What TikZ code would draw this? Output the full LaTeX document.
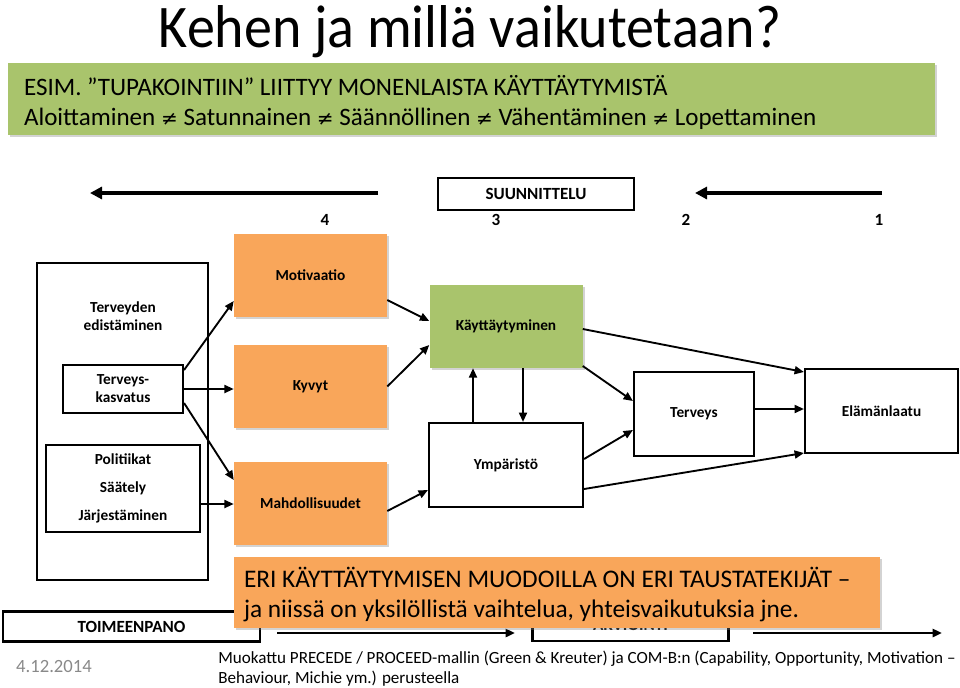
\documentclass[tikz,border=0pt]{standalone}
\usepackage{fontspec}
\setmainfont{Carlito}
\newfontfamily\symfont{DejaVu Sans}
\usetikzlibrary{arrows.meta,shadows,calc}
\definecolor{boxorange}{RGB}{249,166,90}
\definecolor{boxgreen}{RGB}{169,196,108}
\definecolor{dategray}{RGB}{137,137,137}
\newcommand{\neqsym}{{\symfont\fontsize{15}{18}\selectfont ≠}}

\begin{document}
\begin{tikzpicture}[x=0.75pt, y=-0.75pt, >={Triangle[length=7pt,width=6pt]},
    shadowed/.style={drop shadow={shadow xshift=1.5pt, shadow yshift=-1.5pt, opacity=.35}},
    lbl/.style={font=\bfseries\fontsize{11.5}{13.5}\selectfont, align=center},
    caps/.style={font=\bfseries\fontsize{12.8}{14}\selectfont},
    wbox/.style={lbl, draw, line width=1.6pt, fill=white},
    obox/.style={lbl, fill=boxorange, shadowed, minimum width=114.75pt, minimum height=62.25pt},
    arr/.style={->, line width=1.4pt},
    bigarr/.style={-{Triangle[length=9pt,width=9pt]}, line width=2.4pt}]
  \useasboundingbox (0,0) rectangle (960,687);

  % otsikko ja esimerkki
  \node[anchor=base] (title) at (470,47) {\scalebox{1}[1.08]{\fontsize{42}{46}\selectfont Kehen ja millä vaikutetaan?}};
  \node[fill=boxgreen, shadowed, minimum width=695.25pt, minimum height=54pt] (esim) at (471.5,99) {};
  \node[anchor=west, align=left, inner sep=0pt, font=\fontsize{18.8}{22.5}\selectfont] (esimtxt) at ($(esim.west)+(16,3)$)
    {ESIM. ”TUPAKOINTIIN” LIITTYY MONENLAISTA KÄYTTÄYTYMISTÄ\\
     Aloittaminen \neqsym{} Satunnainen \neqsym{} Säännöllinen \neqsym{} Vähentäminen \neqsym{} Lopettaminen};

  % suunnittelu
  \node[wbox, caps, minimum width=147pt, minimum height=24pt] (suun) at (536,194) {SUUNNITTELU};
  \coordinate (s1) at (378,193);
  \coordinate (s2) at (90,193);
  \coordinate (s3) at (882,193);
  \coordinate (s4) at (695,193);
  \draw[bigarr] (s1) -- (s2);
  \draw[bigarr] (s3) -- (s4);
  \node[lbl, caps] (n4) at (325,220) {4};
  \node[lbl, caps] (n3) at (496,220) {3};
  \node[lbl, caps] (n2) at (686,220) {2};
  \node[lbl, caps] (n1) at (879,220) {1};

  % vasen laatikko
  \node[draw, line width=1.6pt, minimum width=128.25pt, minimum height=237.75pt] (edbox) at (122.5,421.5) {};
  \node[lbl] (edist) at (123,316) {Terveyden\\edistäminen};
  \node[wbox, minimum width=90pt, minimum height=36pt] (kasv) at (123,389) {Terveys-\\kasvatus};
  \node[wbox, minimum width=115.5pt, minimum height=65.25pt, font=\bfseries\fontsize{11.5}{21}\selectfont] (polit) at (123,488.5)
    {Politiikat\\Säätely\\Järjestäminen};

  % tekijät
  \node[obox] (mot) at (310.5,275.5) {Motivaatio};
  \node[obox] (kyv) at (310.5,386.5) {Kyvyt};
  \node[obox] (mahd) at (310.5,503) {Mahdollisuudet};
  \node[obox, fill=boxgreen] (kay) at (506,326.5) {Käyttäytyminen};
  \node[wbox, minimum width=115.5pt, minimum height=63pt] (ymp) at (506,465) {Ympäristö};
  \node[wbox, minimum width=90pt, minimum height=63pt] (terv) at (694,414) {Terveys};
  \node[wbox, minimum width=114.75pt, minimum height=63pt] (elam) at (881.5,411) {Elämänlaatu};

  \draw[arr] ($(kasv.east)+(0,-19)$) -- ($(mot.west)+(0,25.5)$);
  \draw[arr] (kasv.east) -- (kasv.east -| kyv.west);
  \draw[arr] ($(kasv.east)+(0,14)$) -- ($(mahd.west)+(0,-23)$);
  \draw[arr] ($(polit.east)+(0,15.5)$) -- ($(mahd.west)+(0,1)$);
  \draw[arr] ($(mot.east)+(0,24.5)$) -- ($(kay.west)+(0,-5.5)$);
  \draw[arr] (kyv.east) -- ($(kay.west)+(0,18.5)$);
  \draw[arr] ($(mahd.east)+(0,8)$) -- ($(ymp.west)+(0,25)$);
  \draw[arr] ($(ymp.north)+(-33,0)$) -- ($(kay.south)+(-33,0)$);
  \draw[arr] ($(kay.south)+(17,0)$) -- ($(ymp.north)+(17,0)$);
  \draw[arr] ($(kay.east)+(0,2.5)$) -- ($(elam.west)+(0,-39)$);
  \draw[arr] ($(kay.east)+(0,39.5)$) -- ($(terv.west)+(0,-13)$);
  \draw[arr] ($(ymp.east)+(0,-6)$) -- ($(terv.west)+(0,16)$);
  \draw[arr] ($(ymp.east)+(0,24)$) -- ($(elam.west)+(0,42)$);
  \draw[arr] ($(terv.east)+(0,-5)$) -- ($(elam.west)+(0,-2)$);

  % toimeenpano ja arviointi
  \node[wbox, caps, minimum width=192.75pt, minimum height=22.5pt] (toim) at (131.5,626.5) {TOIMEENPANO};
  \node[wbox, caps, minimum width=147pt, minimum height=24.75pt] (arv) at (630.5,624.5) {ARVIOINTI};
  \coordinate (b1) at (277,633);
  \coordinate (b2) at (515,633);
  \coordinate (b3) at (753,633);
  \coordinate (b4) at (942,633);
  \draw[arr, line width=2pt] (b1) -- (b2);
  \draw[arr, line width=2pt] (b3) -- (b4);

  \node[fill=boxorange, shadowed, minimum width=484.5pt, minimum height=53.25pt] (huom) at (557,592.5) {};
  \node[anchor=west, align=left, inner sep=0pt, font=\fontsize{19}{23}\selectfont] (huomtxt) at ($(huom.west)+(10,2)$)
    {ERI KÄYTTÄYTYMISEN MUODOILLA ON ERI TAUSTATEKIJÄT --\\
     ja niissä on yksilöllistä vaihtelua, yhteisvaikutuksia jne.};

  % alaviite
  \node[text=dategray, font=\fontsize{14}{16}\selectfont] (pvm) at (54,667) {4.12.2014};
  \node[anchor=north west, align=left, inner sep=0pt, font=\fontsize{12.8}{14.5}\selectfont] (lahde) at (218,651)
    {Muokattu PRECEDE / PROCEED-mallin (Green \& Kreuter) ja COM-B:n (Capability, Opportunity, Motivation --\\
     Behaviour, Michie ym.) perusteella};
\end{tikzpicture}
\end{document}
